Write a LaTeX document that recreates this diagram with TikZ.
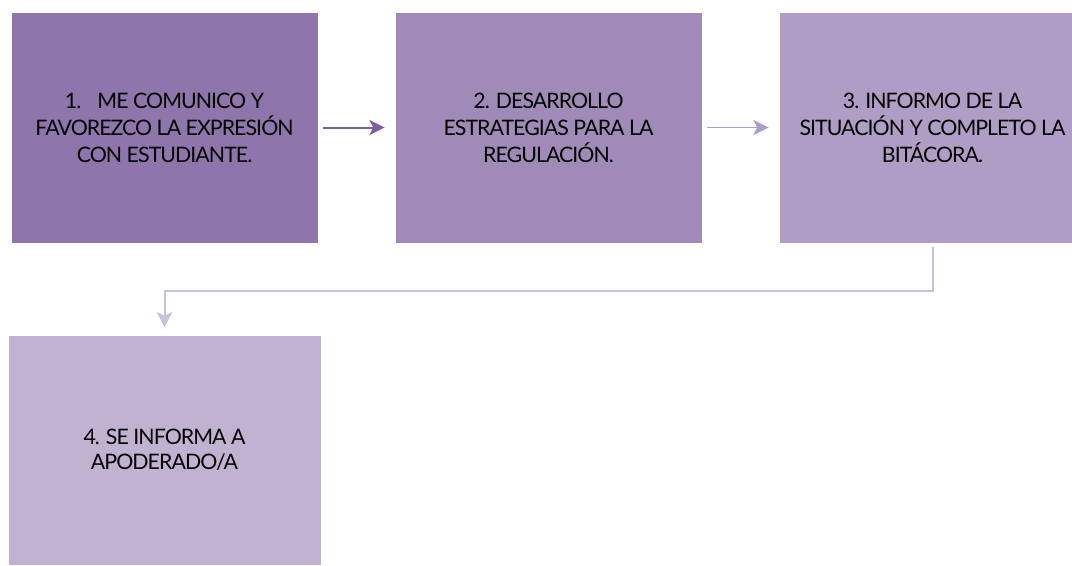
\documentclass[tikz,border=0pt]{standalone}
\usepackage{fontspec}
\setmainfont{Lato}[LetterSpace=-4.5]
\usetikzlibrary{arrows.meta}
\definecolor{cA}{HTML}{8E75AB}
\definecolor{cB}{HTML}{A08BB8}
\definecolor{cC}{HTML}{B09DC6}
\definecolor{cD}{HTML}{C2B2D1}
\definecolor{aA}{HTML}{7D5E9E}
\definecolor{aB}{HTML}{AE9CCB}
\definecolor{aC}{HTML}{C9C1DA}
\begin{document}
\begin{tikzpicture}[x=0.75pt,y=-0.75pt,
  box/.style={fill=#1, draw=white, line width=0.6pt, minimum width=230.25pt, minimum height=173.25pt,
    inner sep=0pt, align=center, font=\fontsize{16pt}{20.25pt}\selectfont, text=black},
  conn/.style={draw=#1, line width=1.5pt, -{Stealth[length=11.5pt,width=11.5pt,inset=3pt]}}]
\useasboundingbox (0,0) rectangle (1072,565);
\node[box=cA] (b1) at (164.5,127.5) {1.\hspace{0.75em}ME COMUNICO Y\\FAVOREZCO LA EXPRESIÓN\\CON ESTUDIANTE.};
\node[box=cB] (b2) at (548.5,127.5) {2. DESARROLLO\\ESTRATEGIAS PARA LA\\REGULACIÓN.};
\node[box=cC] (b3) at (932.5,127.5) {3. INFORMO DE LA\\SITUACIÓN Y COMPLETO LA\\BITÁCORA.};
\node[box=cD, minimum width=234.75pt, minimum height=172.5pt, font=\fontsize{16pt}{18.75pt}\selectfont] (b4) at (164.5,450) {4. SE INFORMA A\\APODERADO/A};
\draw[conn=aA, shorten <=3.75pt, shorten >=7.5pt] (b1) -- (b2);
\draw[conn=aB, line width=1.2pt, shorten <=3.75pt, shorten >=7.5pt] (b2) -- (b3);
\draw[conn=aC, shorten <=3pt, shorten >=5.5pt] (b3.south) -- ++(0,48) -| (b4.north);
\end{tikzpicture}
\end{document}
